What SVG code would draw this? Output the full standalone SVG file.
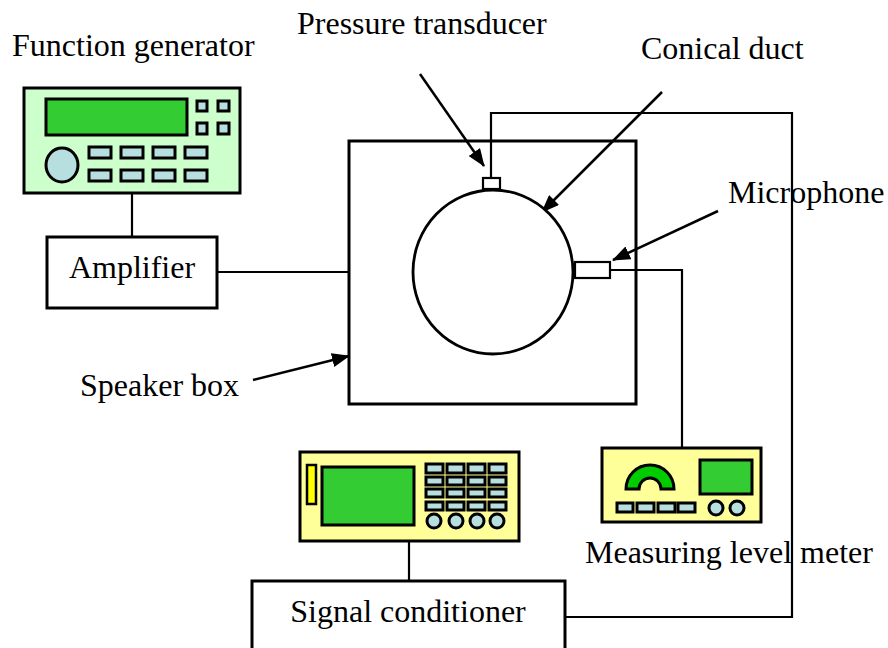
<svg xmlns="http://www.w3.org/2000/svg" width="888" height="648" viewBox="0 0 888 648">
  <style>
    .lbl { font-family: "Liberation Serif", "Times New Roman", serif; font-size: 32px; fill: #000; }
    .wire { fill: none; stroke: #000; stroke-width: 2.2; }
    .box { fill: #fff; stroke: #000; stroke-width: 3; }
    .dev { stroke: #000; stroke-width: 3; }
    .key { fill: #b8dfe0; stroke: #000; stroke-width: 3; }
    .scr { fill: #33cc33; stroke: #000; stroke-width: 3; }
    .ptr { fill: none; stroke: #000; stroke-width: 2.5; marker-end: url(#head); }
  </style>
  <defs>
    <marker id="head" viewBox="0 0 18 14" refX="17" refY="7" markerWidth="18" markerHeight="14" markerUnits="userSpaceOnUse" orient="auto">
      <path d="M0,0 L18,7 L0,14 Z" fill="#000"/>
    </marker>
  </defs>
  <rect width="888" height="648" fill="#fff"/>

  <g id="speaker-box">
    <rect x="349" y="141" width="287" height="263" fill="none" stroke="#000" stroke-width="3"/>
    <text class="lbl" x="80" y="396">Speaker box</text>
  </g>

  <!-- connecting wires -->
  <g id="connectors">
    <line class="wire" x1="132" y1="194" x2="132" y2="237"/>
    <line class="wire" x1="217" y1="272" x2="349" y2="272"/>
    <polyline class="wire" points="491,178 491,113 792,113 792,617 565,617"/>
    <polyline class="wire" points="610,270 682,270 682,449"/>
    <line class="wire" x1="409" y1="541" x2="409" y2="581"/>
    <!-- label pointers -->
    <line class="ptr" x1="420" y1="74" x2="484" y2="166"/>
    <line class="ptr" x1="662" y1="92" x2="542" y2="212"/>
    <line class="ptr" x1="718" y1="211" x2="613" y2="260"/>
    <line class="ptr" x1="253" y1="380" x2="349" y2="356"/>
  </g>

  <g id="function-generator">
    <rect class="dev" x="24" y="88" width="216" height="105" fill="#ccffcc"/>
    <rect class="scr" x="46" y="99" width="141" height="36"/>
    <rect class="key" x="197" y="101" width="10" height="10"/>
    <rect class="key" x="218" y="101" width="11" height="10"/>
    <rect class="key" x="197" y="123" width="10" height="11"/>
    <rect class="key" x="218" y="123" width="11" height="11"/>
    <ellipse class="dev" cx="62" cy="165" rx="16" ry="17" fill="#b8dfe0"/>
    <rect class="key" x="89" y="147" width="22" height="11"/>
    <rect class="key" x="121" y="147" width="22" height="11"/>
    <rect class="key" x="153" y="147" width="22" height="11"/>
    <rect class="key" x="185" y="147" width="22" height="11"/>
    <rect class="key" x="89" y="170" width="22" height="11"/>
    <rect class="key" x="121" y="170" width="22" height="11"/>
    <rect class="key" x="153" y="170" width="22" height="11"/>
    <rect class="key" x="185" y="170" width="22" height="11"/>
    <text class="lbl" x="12" y="56">Function generator</text>
  </g>

  <g id="amplifier">
    <rect class="box" x="47" y="237" width="170" height="71"/>
    <text class="lbl" x="132" y="278" text-anchor="middle">Amplifier</text>
  </g>

  <g id="conical-duct">
    <ellipse cx="493" cy="272" rx="80" ry="82" fill="#fff" stroke="#000" stroke-width="2.8"/>
    <text class="lbl" x="641" y="59">Conical duct</text>
  </g>

  <g id="pressure-transducer">
    <rect x="483" y="178" width="17" height="11" fill="#fff" stroke="#000" stroke-width="2.2"/>
    <text class="lbl" x="297" y="34">Pressure transducer</text>
  </g>

  <g id="microphone">
    <rect x="575" y="262" width="35" height="16" fill="#fff" stroke="#000" stroke-width="2.2"/>
    <text class="lbl" x="728" y="203">Microphone</text>
  </g>

  <g id="level-meter">
    <rect class="dev" x="602" y="448" width="159" height="74" fill="#ffff99"/>
    <path class="dev" d="M626,489 A24,24 0 0 1 674,489 L661,489 A11,11 0 0 0 639,489 Z" fill="#00cc00" stroke-width="2.5"/>
    <rect class="scr" x="700" y="460" width="52" height="34"/>
    <rect class="key" x="617" y="503" width="16" height="9"/>
    <rect class="key" x="637" y="503" width="17" height="9"/>
    <rect class="key" x="658" y="503" width="17" height="9"/>
    <rect class="key" x="678" y="503" width="17" height="9"/>
    <circle class="key" cx="716" cy="508" r="7"/>
    <circle class="key" cx="737" cy="508" r="7"/>
    <text class="lbl" x="585" y="563">Measuring level meter</text>
  </g>

  <g id="conditioner-unit">
    <rect class="dev" x="300" y="452" width="219" height="89" fill="#ffff99"/>
    <rect x="307" y="465" width="9" height="39" fill="#ffff00" stroke="#000" stroke-width="2.5"/>
    <rect class="scr" x="322" y="467" width="92" height="58"/>
    <g>
      <rect class="key" x="426" y="464" width="17" height="9"/>
      <rect class="key" x="447" y="464" width="17" height="9"/>
      <rect class="key" x="468" y="464" width="17" height="9"/>
      <rect class="key" x="489" y="464" width="17" height="9"/>
      <rect class="key" x="426" y="477" width="17" height="8"/>
      <rect class="key" x="447" y="477" width="17" height="8"/>
      <rect class="key" x="468" y="477" width="17" height="8"/>
      <rect class="key" x="489" y="477" width="17" height="8"/>
      <rect class="key" x="426" y="489" width="17" height="8"/>
      <rect class="key" x="447" y="489" width="17" height="8"/>
      <rect class="key" x="468" y="489" width="17" height="8"/>
      <rect class="key" x="489" y="489" width="17" height="8"/>
      <rect class="key" x="426" y="502" width="17" height="8"/>
      <rect class="key" x="447" y="502" width="17" height="8"/>
      <rect class="key" x="468" y="502" width="17" height="8"/>
      <rect class="key" x="489" y="502" width="17" height="8"/>
    </g>
    <circle class="key" cx="434" cy="521" r="7"/>
    <circle class="key" cx="456" cy="521" r="7"/>
    <circle class="key" cx="477" cy="521" r="7"/>
    <circle class="key" cx="497" cy="521" r="7"/>
  </g>

  <g id="signal-conditioner">
    <rect class="box" x="252" y="581" width="313" height="80"/>
    <text class="lbl" x="408" y="622" text-anchor="middle">Signal conditioner</text>
  </g>
</svg>
